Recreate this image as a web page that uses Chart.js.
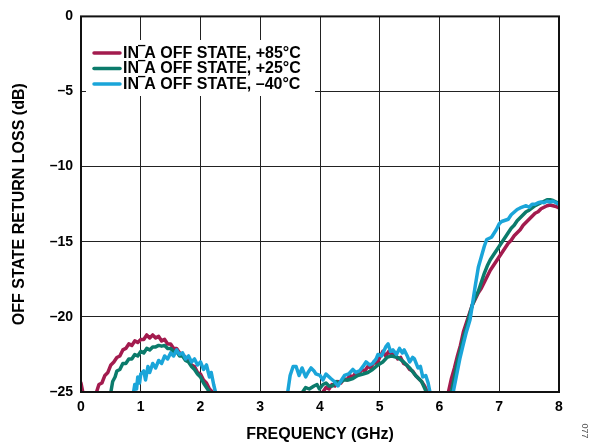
<!DOCTYPE html>
<html>
<head>
<meta charset="utf-8">
<script src="https://cdn.jsdelivr.net/npm/chart.js@4.4.1/dist/chart.umd.min.js"></script>
<style>
html,body{margin:0;padding:0;background:#fff;}
#wrap{width:589px;height:447px;position:relative;}
</style>
</head>
<body>
<div id="wrap"><canvas id="c" width="589" height="447"></canvas></div>
<script>
// ---- Data ----
const seriesLabels = ["IN\u203EA OFF STATE, +85°C", "IN\u203EA OFF STATE, +25°C", "IN\u203EA OFF STATE, \u201340°C"];
const xTicks = [0, 1, 2, 3, 4, 5, 6, 7, 8];
const yTicks = [-25, -20, -15, -10, -5, 0];

const redFreq = [0, 0.03, null,
  0.26, 0.3, 0.35, 0.4, 0.45, 0.5, 0.55, 0.6, 0.65, 0.7, 0.75, 0.8, 0.85, 0.9, 0.95, 1.0, 1.05, 1.1, 1.15, 1.2, 1.25, 1.3, 1.35, 1.4, 1.45, 1.5, 1.55, 1.6, 1.65, 1.7, 1.75, 1.8, 1.85, 1.9, 1.95, 2.0, 2.05, 2.1, 2.15, 2.2, null,
  4.05, 4.1, 4.15, 4.2, 4.25, 4.3, 4.35, 4.4, 4.45, 4.5, 4.55, 4.6, 4.65, 4.7, 4.75, 4.8, 4.85, 4.9, 4.95, 5.0, 5.05, 5.1, 5.15, 5.2, 5.25, 5.3, 5.35, 5.4, 5.45, 5.5, 5.55, 5.6, 5.65, 5.7, 5.75, 5.8, null,
  6.15, 6.2, 6.25, 6.3, 6.35, 6.4, 6.45, 6.5, 6.55, 6.6, 6.65, 6.7, 6.75, 6.8, 6.85, 6.9, 6.95, 7.0, 7.05, 7.1, 7.15, 7.2, 7.25, 7.3, 7.35, 7.4, 7.45, 7.5, 7.55, 7.6, 7.65, 7.7, 7.75, 7.8, 7.85, 7.9, 7.95, 8.0];
const redLoss = [-24.4, -25, null,
  -25, -24.5, -24.4, -23.9, -23.7, -23.2, -23.0, -22.7, -22.6, -22.2, -22.1, -21.8, -21.9, -21.6, -21.7, -21.5, -21.5, -21.2, -21.4, -21.2, -21.4, -21.3, -21.6, -21.5, -21.8, -21.8, -22.1, -22.1, -22.4, -22.5, -22.7, -22.9, -23.2, -23.3, -23.7, -23.8, -24.2, -24.4, -24.8, -25, null,
  -25, -24.7, -24.8, -24.5, -24.6, -24.3, -24.4, -24.1, -24.2, -23.9, -24.0, -23.7, -23.8, -23.5, -23.6, -23.3, -23.4, -23.0, -23.1, -22.7, -22.3, -22.6, -22.3, -22.5, -22.4, -22.8, -22.7, -23.1, -23.2, -23.5, -23.6, -23.9, -24.1, -24.3, -24.6, -25, null,
  -25, -24.1, -23.4, -22.6, -21.9, -21.0, -20.4, -19.8, -19.2, -18.8, -18.4, -18.1, -17.7, -17.3, -16.9, -16.6, -16.3, -16.0, -15.7, -15.4, -15.1, -14.9, -14.6, -14.4, -14.2, -13.9, -13.7, -13.5, -13.3, -13.1, -13.0, -12.8, -12.7, -12.6, -12.55, -12.6, -12.65, -12.75];

const greenFreq = [0.5, 0.53, 0.57, 0.6, 0.65, 0.7, 0.75, 0.8, 0.85, 0.9, 0.95, 1.0, 1.05, 1.1, 1.15, 1.2, 1.25, 1.3, 1.35, 1.4, 1.45, 1.5, 1.55, 1.6, 1.65, 1.7, 1.75, 1.8, 1.85, 1.9, 1.95, 2.0, 2.05, 2.1, 2.15, null,
  3.71, 3.76, 3.82, 3.9, 3.95, 3.99, 4.05, 4.1, 4.15, 4.21, 4.27, 4.32, 4.4, 4.47, 4.55, 4.63, 4.72, 4.8, 4.88, 4.97, 5.05, 5.12, 5.2, 5.3, 5.4, 5.5, 5.6, 5.7, 5.78, null,
  6.2, 6.25, 6.3, 6.35, 6.4, 6.45, 6.5, 6.55, 6.6, 6.65, 6.7, 6.75, 6.8, 6.85, 6.9, 6.95, 7.0, 7.05, 7.1, 7.15, 7.2, 7.25, 7.3, 7.35, 7.4, 7.45, 7.5, 7.55, 7.6, 7.65, 7.7, 7.75, 7.8, 7.85, 7.9, 7.95, 8.0];
const greenLoss = [-25, -24.3, -24.0, -23.6, -23.5, -23.1, -23.1, -22.8, -22.8, -22.5, -22.6, -22.3, -22.4, -22.1, -22.2, -22.0, -22.0, -21.9, -21.95, -21.9, -22.1, -22.1, -22.3, -22.3, -22.6, -22.6, -22.9, -23.0, -23.3, -23.5, -23.8, -24.0, -24.4, -24.7, -25, null,
  -25, -24.7, -24.8, -24.6, -24.5, -24.8, -24.5, -24.4, -24.6, -24.6, -24.3, -24.4, -24.2, -24.2, -24.1, -23.9, -23.8, -23.7, -23.5, -23.2, -23.0, -22.7, -22.6, -22.7, -23.0, -23.4, -23.9, -24.3, -25, null,
  -25, -24.0, -23.0, -22.2, -21.4, -20.7, -19.9, -19.2, -18.7, -18.3, -17.7, -17.1, -16.6, -16.2, -15.9, -15.6, -15.3, -15.0, -14.7, -14.4, -14.1, -13.9, -13.6, -13.4, -13.2, -13.0, -12.9, -12.75, -12.6, -12.5, -12.4, -12.3, -12.2, -12.2, -12.25, -12.35, -12.5];

const blueFreq = [0.88, 0.9, 0.93, 0.95, 0.98, 1.0, 1.05, 1.08, 1.12, 1.15, 1.2, 1.25, 1.3, 1.35, 1.4, 1.45, 1.5, 1.55, 1.6, 1.65, 1.7, 1.75, 1.8, 1.85, 1.9, 1.95, 2.0, 2.05, 2.1, 2.15, 2.18, 2.22, 2.25, null,
  3.46, 3.5, 3.55, 3.6, 3.65, 3.7, 3.76, 3.8, 3.85, 3.9, 3.93, 4.0, 4.05, 4.1, 4.18, 4.24, 4.3, 4.36, 4.41, 4.48, 4.55, 4.6, 4.66, 4.72, 4.77, 4.83, 4.88, 4.94, 4.97, 5.03, 5.1, 5.14, 5.18, 5.22, 5.28, 5.33, 5.38, 5.41, 5.46, 5.5, 5.55, 5.58, 5.64, 5.68, 5.72, 5.77, 5.81, 5.84, null,
  6.23, 6.28, 6.34, 6.4, 6.45, 6.51, 6.55, 6.6, 6.65, 6.7, 6.75, 6.79, 6.87, 6.95, 7.0, 7.04, 7.15, 7.2, 7.3, 7.35, 7.45, 7.5, 7.55, 7.6, 7.65, 7.7, 7.75, 7.8, 7.85, 7.9, 7.95, 8.0];
const blueLoss = [-25, -24.5, -24.8, -24.0, -24.4, -23.8, -23.6, -24.2, -23.3, -23.7, -23.1, -23.4, -22.9, -23.1, -22.6, -22.8, -22.4, -22.6, -22.2, -22.5, -22.4, -22.8, -22.6, -23.0, -22.8, -23.2, -23.0, -23.5, -23.2, -24.0, -23.7, -24.5, -25, null,
  -25, -23.9, -23.3, -23.3, -23.9, -23.4, -24.0, -23.7, -23.4, -23.6, -23.8, -23.9, -24.2, -23.8, -24.1, -24.3, -24.6, -24.2, -23.9, -23.8, -23.5, -23.7, -23.6, -23.3, -23.0, -23.2, -23.1, -22.8, -22.5, -22.6, -22.0, -21.8, -22.3, -22.2, -22.5, -22.1, -22.4, -22.2, -22.6, -23.0, -22.7, -22.8, -23.4, -23.3, -24.0, -23.9, -24.4, -25, null,
  -25, -24.0, -22.8, -21.8, -21.0, -20.2, -19.2, -17.9, -16.7, -16.0, -15.3, -14.85, -14.7, -14.2, -13.8, -13.65, -13.5, -13.2, -12.85, -12.75, -12.6, -12.7, -12.5, -12.5, -12.4, -12.35, -12.4, -12.3, -12.35, -12.3, -12.4, -12.5];

const seriesColors = ["#A31B4E", "#0B7B6B", "#1AA5D9"];

function toPoints(xs, ys) {
  return xs.map((x, i) => (x === null || ys[i] === null) ? {x: NaN, y: null} : {x: x, y: ys[i]});
}

const FONT = "'Liberation Sans', Arial, Helvetica, sans-serif";

const framePlugin = {
  id: 'frame',
  afterDatasetsDraw(chart) {
    const {ctx, chartArea: a} = chart;
    ctx.save();
    // legend box
    const lx = 86, ly = 40, lw = 229, lh = 56;
    ctx.fillStyle = '#fff';
    ctx.fillRect(lx, ly, lw, lh);
    chart.data.datasets.forEach((ds, i) => {
      const y = 53 + i * 15.5;
      ctx.strokeStyle = ds.borderColor;
      ctx.lineWidth = 3.5;
      ctx.lineCap = 'round';
      ctx.beginPath();
      ctx.moveTo(94, y);
      ctx.lineTo(120, y);
      ctx.stroke();
      ctx.fillStyle = '#000';
      ctx.font = "bold 16px " + FONT;
      ctx.textBaseline = 'middle';
      ctx.textAlign = 'left';
      ctx.fillText(ds.label, 123, y + 0.5);
    });
    // frame
    ctx.strokeStyle = '#111';
    ctx.lineWidth = 2;
    ctx.lineCap = 'butt';
    ctx.strokeRect(a.left, a.top, a.right - a.left, a.bottom - a.top);
    // figure number
    ctx.translate(584, 431);
    ctx.rotate(Math.PI / 2);
    ctx.fillStyle = '#555';
    ctx.font = "9px " + FONT;
    ctx.textAlign = 'center';
    ctx.textBaseline = 'middle';
    ctx.fillText('077', 0, 0);
    ctx.restore();
  }
};

new Chart(document.getElementById('c'), {
  type: 'scatter',
  data: {
    datasets: [
      {label: seriesLabels[0], data: toPoints(redFreq, redLoss), borderColor: seriesColors[0], backgroundColor: seriesColors[0], order: 3},
      {label: seriesLabels[1], data: toPoints(greenFreq, greenLoss), borderColor: seriesColors[1], backgroundColor: seriesColors[1], order: 2},
      {label: seriesLabels[2], data: toPoints(blueFreq, blueLoss), borderColor: seriesColors[2], backgroundColor: seriesColors[2], order: 1}
    ].map(d => Object.assign(d, {showLine: true, pointRadius: 0, borderWidth: 3.5, spanGaps: false, tension: 0, borderJoinStyle: 'round', borderCapStyle: 'round'}))
  },
  options: {
    responsive: false,
    animation: false,
    devicePixelRatio: 1,
    layout: {padding: {left: 0, right: 30, top: 11, bottom: 0}},
    plugins: {legend: {display: false}, tooltip: {enabled: false}},
    scales: {
      x: {
        type: 'linear', min: 0, max: 8,
        afterFit: s => { s.height = 55; },
        afterBuildTicks: s => { s.ticks = xTicks.map(v => ({value: v})); },
        grid: {color: '#222', lineWidth: 1, drawTicks: false},
        border: {display: false},
        ticks: {color: '#000', font: {family: FONT, size: 14, weight: 'bold'}, padding: 7, maxRotation: 0},
        title: {display: true, text: 'FREQUENCY (GHz)', color: '#000', font: {family: FONT, size: 16, weight: 'bold'}, padding: {top: 0, bottom: 3}}
      },
      y: {
        type: 'linear', min: -25, max: 0,
        afterFit: s => { s.width = 81; },
        afterBuildTicks: s => { s.ticks = yTicks.map(v => ({value: v})); },
        grid: {color: '#222', lineWidth: 1, drawTicks: false},
        border: {display: false},
        ticks: {color: '#000', font: {family: FONT, size: 14, weight: 'bold'}, padding: 8,
          callback: v => String(v).replace('-', '\u2013')},
        title: {display: true, text: 'OFF STATE RETURN LOSS (dB)', color: '#000', font: {family: FONT, size: 16, weight: 'bold'}, padding: {top: 10, bottom: 0}}
      }
    }
  },
  plugins: [framePlugin]
});
</script>
</body>
</html>
